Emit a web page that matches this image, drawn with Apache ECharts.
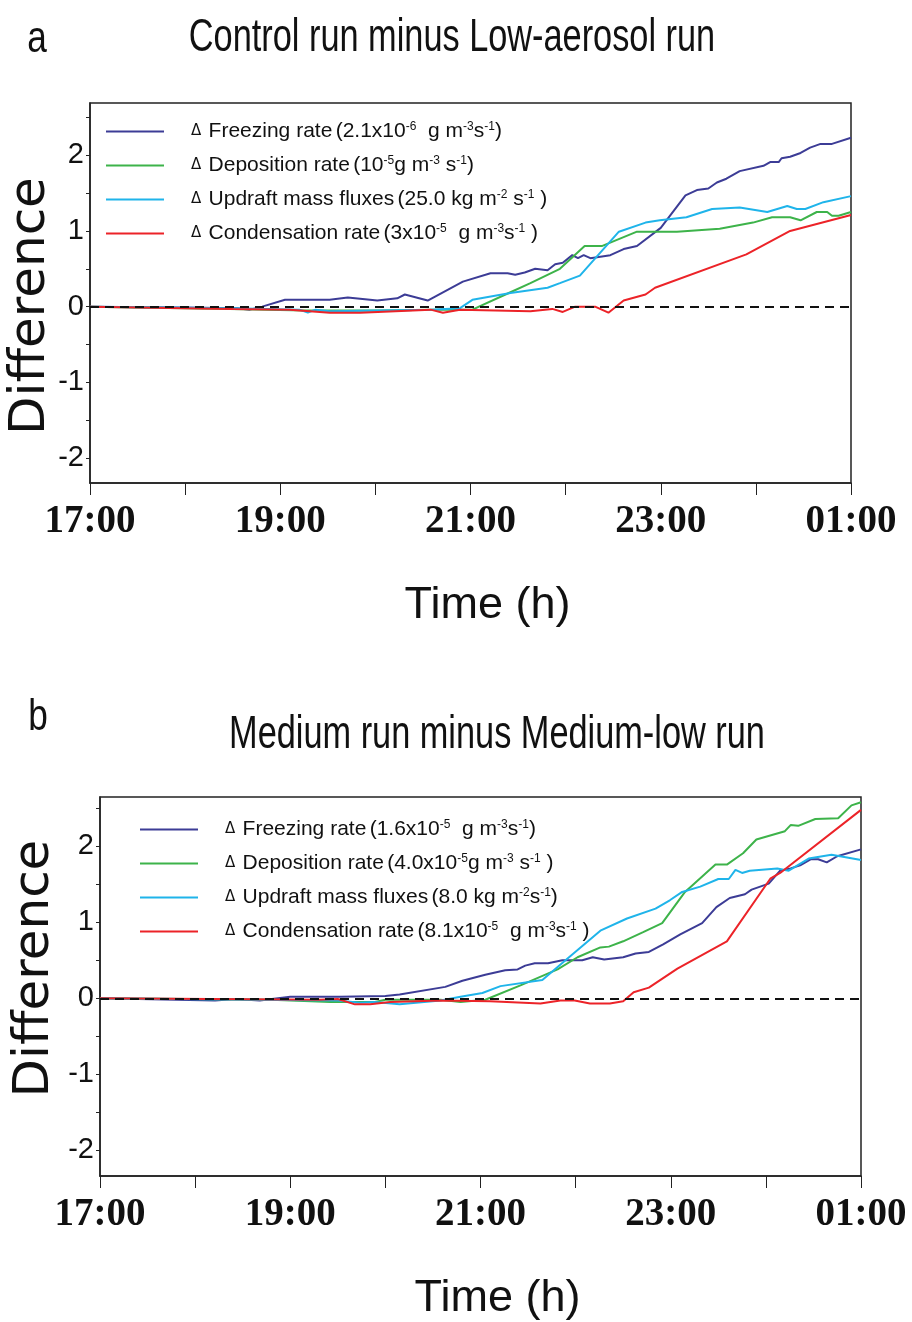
<!DOCTYPE html>
<html>
<head>
<meta charset="utf-8">
<script src="https://cdn.jsdelivr.net/npm/echarts@6/dist/echarts.min.js"></script>
<style>
  html, body { margin: 0; padding: 0; background: #fff; }
  #main { width: 912px; height: 1322px; }
</style>
</head>
<body>
<div id="main"></div>
<script>
// hours after 17:00
var xLabelHours = [0, 2, 4, 6, 8];
var xLabels = ['17:00', '19:00', '21:00', '23:00', '01:00'];
var yTickVals = [-2, -1.5, -1, -0.5, 0, 0.5, 1, 1.5, 2, 2.5];
var yLabelVals = [-2, -1, 0, 1, 2];

var colors = ['#3c3c96', '#3db34a', '#1fb4ea', '#ec2328'];
var names = ['Freezing rate', 'Deposition rate', 'Updraft mass fluxes', 'Condensation rate'];

// panel a : Control run minus Low-aerosol run
var tA_frz = [0, 1.0, 1.55, 1.68, 1.81, 2.05, 2.52, 2.71, 3.02, 3.23, 3.31, 3.55, 3.92, 4.21, 4.39, 4.47, 4.57, 4.68, 4.81, 4.89, 4.97, 5.07, 5.13, 5.19, 5.26, 5.47, 5.61, 5.75, 6.0, 6.26, 6.38, 6.5, 6.59, 6.69, 6.83, 7.08, 7.15, 7.24, 7.27, 7.36, 7.47, 7.57, 7.68, 7.8, 8.0];
var vA_frz = [0, -0.01, -0.02, -0.04, 0.0, 0.09, 0.09, 0.12, 0.08, 0.11, 0.16, 0.08, 0.33, 0.44, 0.44, 0.42, 0.45, 0.50, 0.48, 0.56, 0.58, 0.68, 0.64, 0.68, 0.64, 0.68, 0.76, 0.80, 1.04, 1.47, 1.54, 1.56, 1.64, 1.69, 1.79, 1.86, 1.91, 1.91, 1.96, 1.98, 2.03, 2.10, 2.15, 2.15, 2.23];
var tA_dep = [0, 1.47, 2.26, 3.05, 3.58, 4.02, 4.42, 4.63, 4.94, 5.2, 5.38, 5.75, 6.17, 6.62, 6.97, 7.17, 7.36, 7.47, 7.64, 7.75, 7.8, 7.87, 8.0];
var vA_dep = [0, -0.03, -0.05, -0.05, -0.04, -0.04, 0.19, 0.31, 0.50, 0.80, 0.80, 0.99, 0.99, 1.03, 1.11, 1.18, 1.18, 1.14, 1.25, 1.25, 1.20, 1.20, 1.25];
var tA_upd = [0, 1.5, 2.2, 2.29, 2.37, 2.52, 3.58, 3.89, 4.02, 4.42, 4.81, 4.94, 5.15, 5.56, 5.84, 5.99, 6.27, 6.54, 6.83, 7.12, 7.33, 7.43, 7.52, 7.71, 8.0];
var vA_upd = [0, -0.02, -0.04, -0.08, -0.04, -0.06, -0.04, -0.02, 0.09, 0.18, 0.25, 0.31, 0.41, 0.99, 1.11, 1.14, 1.18, 1.29, 1.31, 1.25, 1.33, 1.29, 1.29, 1.38, 1.46];
var tA_con = [0, 1.5, 2.1, 2.52, 2.84, 3.58, 3.71, 3.89, 4.63, 4.86, 4.97, 5.1, 5.31, 5.45, 5.61, 5.84, 5.94, 6.9, 7.36, 8.0];
var vA_con = [0, -0.03, -0.04, -0.08, -0.08, -0.04, -0.08, -0.04, -0.06, -0.03, -0.07, 0.0, 0.0, -0.08, 0.08, 0.16, 0.25, 0.69, 1.0, 1.21];

// panel b : Medium run minus Medium-low run
var tB_frz = [0, 1.21, 1.42, 1.68, 2.0, 2.52, 3.0, 3.15, 3.63, 3.81, 4.05, 4.26, 4.39, 4.47, 4.57, 4.71, 4.86, 5.07, 5.18, 5.3, 5.5, 5.63, 5.77, 5.92, 6.1, 6.33, 6.48, 6.62, 6.78, 6.85, 7.03, 7.15, 7.26, 7.36, 7.47, 7.55, 7.64, 7.75, 8.0];
var vB_frz = [0, -0.03, -0.01, -0.03, 0.02, 0.02, 0.03, 0.05, 0.15, 0.23, 0.31, 0.37, 0.38, 0.43, 0.46, 0.46, 0.50, 0.50, 0.54, 0.51, 0.54, 0.59, 0.61, 0.71, 0.84, 0.99, 1.2, 1.32, 1.37, 1.43, 1.51, 1.68, 1.71, 1.75, 1.83, 1.83, 1.79, 1.87, 1.96];
var tB_dep = [0, 1.8, 2.42, 2.89, 3.0, 3.58, 3.79, 4.05, 4.42, 4.81, 5.02, 5.26, 5.35, 5.5, 5.71, 5.91, 6.15, 6.47, 6.59, 6.76, 6.9, 7.2, 7.26, 7.34, 7.52, 7.76, 7.9, 8.0];
var vB_dep = [0, -0.02, -0.05, -0.05, -0.02, -0.02, -0.05, -0.02, 0.17, 0.38, 0.54, 0.67, 0.68, 0.75, 0.87, 0.99, 1.40, 1.76, 1.76, 1.91, 2.09, 2.20, 2.28, 2.27, 2.36, 2.37, 2.54, 2.58];
var tB_upd = [0, 2.5, 2.73, 2.89, 3.15, 3.58, 3.79, 4.02, 4.21, 4.65, 4.94, 5.26, 5.54, 5.84, 5.99, 6.12, 6.31, 6.5, 6.61, 6.68, 6.75, 6.83, 7.12, 7.24, 7.45, 7.69, 7.78, 8.0];
var vB_upd = [0, -0.03, -0.06, -0.05, -0.08, -0.03, 0.02, 0.07, 0.16, 0.24, 0.55, 0.89, 1.05, 1.18, 1.29, 1.40, 1.47, 1.57, 1.57, 1.69, 1.65, 1.68, 1.71, 1.68, 1.84, 1.89, 1.87, 1.82];
var tB_con = [0, 2.31, 2.5, 2.68, 2.84, 3.05, 3.58, 4.1, 4.63, 4.84, 4.99, 5.15, 5.36, 5.5, 5.61, 5.77, 6.07, 6.59, 7.05, 7.15, 8.0];
var vB_con = [0, -0.02, -0.01, -0.08, -0.08, -0.05, -0.03, -0.04, -0.07, -0.03, -0.03, -0.07, -0.07, -0.04, 0.08, 0.14, 0.39, 0.75, 1.58, 1.65, 2.48];

// legend texts (rich text, s = superscript)
var unitsA = [
  '{t|(2.1x10}{s|-6}{t|  g m}{s|-3}{t|s}{s|-1}{t|)}',
  '{t|(10}{s|-5}{t|g m}{s|-3}{t| s}{s|-1}{t|)}',
  '{t|(25.0 kg m}{s|-2}{t| s}{s|-1}{t| )}',
  '{t|(3x10}{s|-5}{t|  g m}{s|-3}{t|s}{s|-1}{t| )}'
];
var unitsB = [
  '{t|(1.6x10}{s|-5}{t|  g m}{s|-3}{t|s}{s|-1}{t|)}',
  '{t|(4.0x10}{s|-5}{t|g m}{s|-3}{t| s}{s|-1}{t| )}',
  '{t|(8.0 kg m}{s|-2}{t|s}{s|-1}{t|)}',
  '{t|(8.1x10}{s|-5}{t|  g m}{s|-3}{t|s}{s|-1}{t| )}'
];

var sans = "'Liberation Sans', Arial, sans-serif";

var chart = echarts.init(document.getElementById('main'));

function pairs(t, v) {
  return t.map(function (x, i) { return [x, v[i]]; });
}

function makeX(idx) {
  return {
    type: 'value', gridIndex: idx, min: 0, max: 8, interval: 1,
    name: 'Time (h)', nameLocation: 'middle', nameGap: 100,
    nameTextStyle: { fontFamily: sans, fontSize: 45, color: '#111', padding: [0, 0, 0, 34] },
    axisLine: { show: true, onZero: false, lineStyle: { color: '#222', width: 1.5 } },
    axisTick: { show: true, length: 12, lineStyle: { color: '#222', width: 1 } },
    axisLabel: {
      margin: 19, color: '#111', fontSize: 39, fontWeight: 'bold',
      fontFamily: "'Liberation Serif', 'Times New Roman', serif",
      formatter: function (v) {
        var i = xLabelHours.indexOf(v);
        return i < 0 ? '' : xLabels[i];
      }
    },
    splitLine: { show: false }
  };
}

function makeY(idx, mn, mx, gap, pad) {
  return {
    type: 'value', gridIndex: idx, min: mn, max: mx,
    name: 'Difference', nameLocation: 'middle', nameGap: gap, nameMoveOverlap: false,
    nameTextStyle: { fontFamily: "'DejaVu Sans', sans-serif", fontSize: 50, color: '#111', padding: pad },
    axisLine: { show: true, onZero: false, lineStyle: { color: '#222', width: 1.5 } },
    axisTick: { show: true, length: 4, customValues: yTickVals, lineStyle: { color: '#222' } },
    axisLabel: { customValues: yLabelVals, margin: 6, fontSize: 29, fontFamily: sans, color: '#111' },
    splitLine: { show: false }
  };
}

var series = [];
var dataA = [[tA_frz, vA_frz], [tA_dep, vA_dep], [tA_upd, vA_upd], [tA_con, vA_con]];
var dataB = [[tB_frz, vB_frz], [tB_dep, vB_dep], [tB_upd, vB_upd], [tB_con, vB_con]];
var legendA = {}, legendB = {};

[dataA, dataB].forEach(function (set, p) {
  set.forEach(function (d, i) {
    var nm = names[i] + (p === 0 ? ' ' : '  ');
    if (p === 0) legendA[nm] = '{d|\u0394} {t|' + names[i] + '} ' + unitsA[i];
    else legendB[nm] = '{d|\u0394} {t|' + names[i] + '} ' + unitsB[i];
    var s = {
      name: nm, type: 'line', xAxisIndex: p, yAxisIndex: p,
      data: pairs(d[0], d[1]), symbol: 'none', smooth: false,
      lineStyle: { color: colors[i], width: 2 }, itemStyle: { color: colors[i] }
    };
    if (i === 0) {
      s.markLine = {
        silent: true, symbol: 'none', label: { show: false },
        lineStyle: { color: '#111', type: [9, 6], width: 2 },
        data: [{ yAxis: 0 }]
      };
    }
    series.push(s);
  });
});

var richText = {
  t: { fontFamily: sans, fontSize: 21, color: '#111' },
  s: { fontFamily: sans, fontSize: 12, color: '#111', verticalAlign: 'top', padding: [0, 0, 6, 0] },
  d: { fontFamily: "'DejaVu Sans', sans-serif", fontSize: 15, color: '#111', padding: [0, 4, 0, 22] }
};

function makeLegend(left, top, map) {
  return {
    orient: 'vertical', left: left, top: top, itemWidth: 58, itemHeight: 2, itemGap: 13,
    icon: 'rect', selectedMode: false,
    data: Object.keys(map),
    formatter: function (n) { return map[n]; },
    textStyle: { rich: richText }
  };
}

function label(txt, x, y, size, sx) {
  return {
    type: 'text', x: x, y: y, scaleX: sx,
    style: { text: txt, font: size + 'px ' + sans, fill: '#111', align: 'center', verticalAlign: 'middle' }
  };
}

var option = {
  animation: false,
  grid: [
    { left: 90, top: 103, width: 761, height: 380, show: true, borderColor: '#222', borderWidth: 1.5, outerBoundsMode: 'none' },
    { left: 100, top: 797, width: 761, height: 379, show: true, borderColor: '#222', borderWidth: 1.5, outerBoundsMode: 'none' }
  ],
  xAxis: [makeX(0), makeX(1)],
  yAxis: [
    makeY(0, -2.33, 2.69, 34, [0, 26, 0, 0]),
    makeY(1, -2.34, 2.65, 40, [0, 0, 0, 36])
  ],
  legend: [makeLegend(101, 116, legendA), makeLegend(135, 814, legendB)],
  graphic: [
    label('a', 37, 40, 44, 0.8),
    label('Control run minus Low-aerosol run', 452, 38, 47, 0.73),
    label('b', 38, 718, 44, 0.8),
    label('Medium run minus Medium-low run', 497, 735, 47, 0.73)
  ],
  series: series
};

chart.setOption(option);
</script>
</body>
</html>
